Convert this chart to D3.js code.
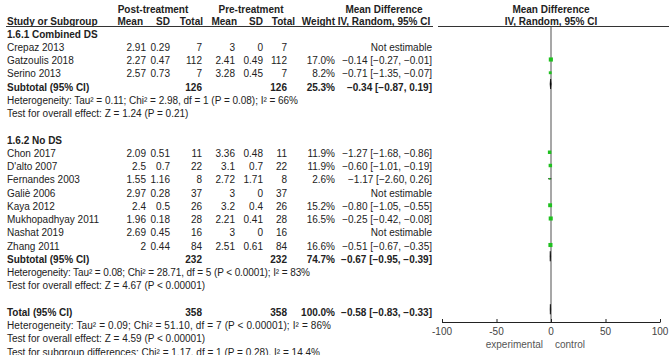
<!DOCTYPE html>
<html><head><meta charset="utf-8">
<script src="https://cdn.jsdelivr.net/npm/d3@7"></script>
<style>
body{margin:0;background:#fff;}
svg{display:block;font-family:"Liberation Sans",Arial,sans-serif;}
text{fill:#222;font-size:10px;}
.b{font-weight:bold;}
</style></head>
<body>
<svg id="c" width="669" height="355"></svg>
<script>
// ---- data ----
const group1Studies = ["Crepaz 2013","Gatzoulis 2018","Serino 2013"];
const group1PostMean = ["2.91","2.27","2.57"];
const group1PostSD = ["0.29","0.47","0.73"];
const group1PostN = [7,112,7];
const group1PreMean = ["3","2.41","3.28"];
const group1PreSD = ["0","0.49","0.45"];
const group1PreN = [7,112,7];
const group1Weight = [null,17.0,8.2];
const group1MD = [null,-0.14,-0.71];
const group1Lo = [null,-0.27,-1.35];
const group1Hi = [null,-0.01,-0.07];

const group2Studies = ["Chon 2017","D'alto 2007","Fernandes 2003","Galiè 2006","Kaya 2012","Mukhopadhyay 2011","Nashat 2019","Zhang 2011"];
const group2PostMean = ["2.09","2.5","1.55","2.97","2.4","1.96","2.69","2"];
const group2PostSD = ["0.51","0.7","1.16","0.28","0.5","0.18","0.45","0.44"];
const group2PostN = [11,22,8,37,26,28,16,84];
const group2PreMean = ["3.36","3.1","2.72","3","3.2","2.21","3","2.51"];
const group2PreSD = ["0.48","0.7","1.71","0","0.4","0.41","0","0.61"];
const group2PreN = [11,22,8,37,26,28,16,84];
const group2Weight = [11.9,11.9,2.6,null,15.2,16.5,null,16.6];
const group2MD = [-1.27,-0.60,-1.17,null,-0.80,-0.25,null,-0.51];
const group2Lo = [-1.68,-1.01,-2.60,null,-1.05,-0.42,null,-0.67];
const group2Hi = [-0.86,-0.19,0.26,null,-0.55,-0.08,null,-0.35];

const subtotalLabels = ["Subtotal (95% CI)","Subtotal (95% CI)","Total (95% CI)"];
const subtotalN = [126,232,358];
const subtotalWeight = ["25.3%","74.7%","100.0%"];
const subtotalMD = [-0.34,-0.67,-0.58];
const subtotalLo = [-0.87,-0.95,-0.83];
const subtotalHi = [0.19,-0.39,-0.33];

const hetText = [
 "Heterogeneity: Tau² = 0.11; Chi² = 2.98, df = 1 (P = 0.08); I² = 66%",
 "Heterogeneity: Tau² = 0.08; Chi² = 28.71, df = 5 (P < 0.0001); I² = 83%",
 "Heterogeneity: Tau² = 0.09; Chi² = 51.10, df = 7 (P < 0.00001); I² = 86%"];
const hetWidth = [291, 303, 324];
const overallText = [
 "Test for overall effect: Z = 1.24 (P = 0.21)",
 "Test for overall effect: Z = 4.67 (P < 0.00001)",
 "Test for overall effect: Z = 4.59 (P < 0.00001)"];
const subgroupText = "Test for subgroup differences: Chi² = 1.17, df = 1 (P = 0.28), I² = 14.4%";
const subgroupWidth = 313;
const groupTitles = ["1.6.1 Combined DS","1.6.2 No DS"];
const axisTicks = [-100,-50,0,50,100];
const axisLabels = ["experimental","control"];

// ---- build rows ----
const rows = [];
function addGroup(title, st, pm, ps, pn, qm, qs, qn, w, md, lo, hi, gi){
  rows.push({type:"title", label:title});
  st.forEach((s,i)=>rows.push({type:"study",label:s,pm:pm[i],ps:ps[i],pn:pn[i],qm:qm[i],qs:qs[i],qn:qn[i],w:w[i],md:md[i],lo:lo[i],hi:hi[i]}));
  rows.push({type:"sub", gi});
  rows.push({type:"text", label:hetText[gi], len:hetWidth[gi]});
  rows.push({type:"text", label:overallText[gi]});
  rows.push({type:"blank"});
}
addGroup(groupTitles[0],group1Studies,group1PostMean,group1PostSD,group1PostN,group1PreMean,group1PreSD,group1PreN,group1Weight,group1MD,group1Lo,group1Hi,0);
addGroup(groupTitles[1],group2Studies,group2PostMean,group2PostSD,group2PostN,group2PreMean,group2PreSD,group2PreN,group2Weight,group2MD,group2Lo,group2Hi,1);
rows.push({type:"sub", gi:2});
rows.push({type:"text", label:hetText[2], len:hetWidth[2]});
rows.push({type:"text", label:overallText[2]});
rows.push({type:"text", label:subgroupText, len:subgroupWidth});

const svg = d3.select("#c");
const y = d3.scaleLinear().domain([0, rows.length-1]).range([34, 34 + (rows.length-1)*13.25]);
const x = d3.scaleLinear().domain([-100,100]).range([442,660]);
const fmt = d3.format(".2f");
const ciStr = (m,l,h)=>`${fmt(m)} [${fmt(l)}, ${fmt(h)}]`;

const col = {name:7, pm:146, ps:170, pn:202, qm:235, qs:263, qn:287, w:335, md:432};
const green = "#1fc01f";

// headers
const H1 = 13, H2 = 25;
svg.append("text").attr("class","b").attr("x",153).attr("y",H1).attr("text-anchor","middle").text("Post-treatment");
svg.append("text").attr("class","b").attr("x",251).attr("y",H1).attr("text-anchor","middle").text("Pre-treatment");
svg.append("text").attr("class","b").attr("x",384).attr("y",H1).attr("text-anchor","middle").text("Mean Difference");
svg.append("text").attr("class","b").attr("x",551).attr("y",H1).attr("text-anchor","middle").text("Mean Difference");
svg.append("text").attr("class","b").attr("x",col.name).attr("y",H2).text("Study or Subgroup");
[["Mean",143],["SD",170],["Total",203],["Mean",237],["SD",263],["Total",295],["Weight",335]].forEach(([t,xx])=>
  svg.append("text").attr("class","b").attr("x",xx).attr("y",H2).attr("text-anchor","end").text(t));
svg.append("text").attr("class","b").attr("x",384).attr("y",H2).attr("text-anchor","middle").text("IV, Random, 95% CI");
svg.append("text").attr("class","b").attr("x",551).attr("y",H2).attr("text-anchor","middle").text("IV, Random, 95% CI");
svg.append("line").attr("x1",6).attr("x2",433).attr("y1",26.5).attr("y2",26.5).attr("stroke","#333").attr("stroke-width",1);
svg.append("line").attr("x1",438).attr("x2",669).attr("y1",26.5).attr("y2",26.5).attr("stroke","#333").attr("stroke-width",1);

// zero line
const axisY = 322;
svg.append("line").attr("x1",x(0)).attr("x2",x(0)).attr("y1",27).attr("y2",axisY).attr("stroke","#8a8a8a").attr("stroke-width",1.5);

const base = i => y(i)+3.5;
rows.forEach((r,i)=>{
  const by = base(i), cy = y(i);
  if(r.type==="title"){
    svg.append("text").attr("class","b").attr("x",col.name).attr("y",by).text(r.label);
  } else if(r.type==="text"){
    const t = svg.append("text").attr("x",col.name).attr("y",by).text(r.label);
    if(r.len) t.attr("textLength",r.len).attr("lengthAdjust","spacing");
  } else if(r.type==="study"){
    svg.append("text").attr("x",col.name).attr("y",by).text(r.label);
    [["pm",r.pm],["ps",r.ps],["pn",r.pn],["qm",r.qm],["qs",r.qs],["qn",r.qn]].forEach(([k,v])=>
      svg.append("text").attr("x",col[k]).attr("y",by).attr("text-anchor","end").text(v));
    if(r.w!=null){
      svg.append("text").attr("x",col.w).attr("y",by).attr("text-anchor","end").text(r.w.toFixed(1)+"%");
      svg.append("text").attr("x",col.md).attr("y",by).attr("text-anchor","end").text(ciStr(r.md,r.lo,r.hi));
      const s = Math.sqrt(r.w);
      svg.append("line").attr("x1",x(r.lo)).attr("x2",x(r.hi)).attr("y1",cy-1).attr("y2",cy-1).attr("stroke","#000").attr("stroke-width",1);
      svg.append("rect").attr("x",x(r.md)-s/2).attr("y",cy-1-s/2).attr("width",s).attr("height",s).attr("fill",green);
    } else {
      svg.append("text").attr("x",col.md).attr("y",by).attr("text-anchor","end").text("Not estimable");
    }
  } else if(r.type==="sub"){
    const g = r.gi;
    svg.append("text").attr("class","b").attr("x",col.name).attr("y",by).text(subtotalLabels[g]);
    svg.append("text").attr("class","b").attr("x",col.pn).attr("y",by).attr("text-anchor","end").text(subtotalN[g]);
    svg.append("text").attr("class","b").attr("x",col.qn).attr("y",by).attr("text-anchor","end").text(subtotalN[g]);
    svg.append("text").attr("class","b").attr("x",col.w).attr("y",by).attr("text-anchor","end").text(subtotalWeight[g]);
    svg.append("text").attr("class","b").attr("x",col.md).attr("y",by).attr("text-anchor","end").text(ciStr(subtotalMD[g],subtotalLo[g],subtotalHi[g]));
    const dy = cy-3, h = 5;
    const pts = [[x(subtotalLo[g]),dy],[x(subtotalMD[g]),dy-h],[x(subtotalHi[g]),dy],[x(subtotalMD[g]),dy+h]];
    svg.append("path").attr("d","M"+pts.join("L")+"Z").attr("fill","#000").attr("stroke","#000").attr("stroke-width",0.6);
  }
});

// axis
const ax = svg.append("g").attr("transform",`translate(0,${axisY})`);
ax.append("line").attr("x1",x(-100)).attr("x2",x(100)).attr("y1",0.5).attr("y2",0.5).attr("stroke","#222");
ax.selectAll("line.t").data(axisTicks).join("line").attr("class","t")
  .attr("x1",d=>x(d)+0.5).attr("x2",d=>x(d)+0.5).attr("y1",-3).attr("y2",0.5).attr("stroke","#222");
ax.selectAll("text.t").data(axisTicks).join("text").attr("class","t")
  .attr("x",d=>x(d)).attr("y",13).attr("text-anchor","middle").style("fill","#444").text(d=>d);
svg.append("text").attr("x",x(0)-8).attr("y",348).attr("text-anchor","end").style("fill","#555").text(axisLabels[0]);
svg.append("text").attr("x",x(0)+4).attr("y",348).attr("text-anchor","start").style("fill","#555").text(axisLabels[1]);
</script>
</body></html>
